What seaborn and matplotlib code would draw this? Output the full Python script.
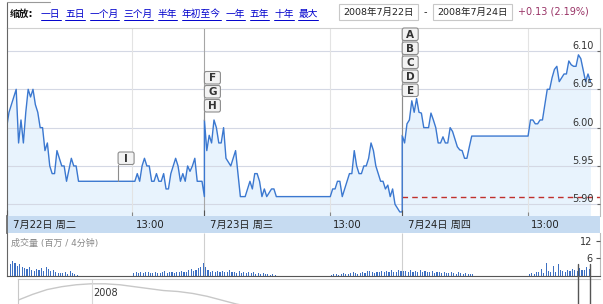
import numpy as np
import pandas as pd
import matplotlib
matplotlib.use("Agg")
import matplotlib.pyplot as plt
from matplotlib.patches import FancyBboxPatch, Rectangle
from matplotlib.transforms import blended_transform_factory, offset_copy
import seaborn as sns

sns.set_theme(style="white")
plt.rcParams["font.family"] = ["DejaVu Sans", "Noto Sans CJK SC"]

# ---------------- data ----------------
day_labels = ["7月22日 周二", "7月23日 周三", "7月24日 周四"]
pm_label = "13:00"

# prices every 4 minutes, morning 09:30-11:30, afternoon from 13:00
day1_am = [6.00, 6.02, 6.03, 6.04, 6.05, 5.98, 6.01, 5.98, 6.02, 6.05, 6.04, 6.05, 6.03, 6.02, 6.00, 6.00,
           5.97, 5.98, 5.95, 5.94, 5.94, 5.97, 5.96, 5.95, 5.95, 5.93, 5.945, 5.96, 5.95, 5.95, 5.93]
day1_pm = [5.93, 5.93, 5.94, 5.93, 5.95, 5.96, 5.95, 5.95, 5.93, 5.93, 5.94, 5.93, 5.93, 5.94, 5.92, 5.92,
           5.94, 5.95, 5.96, 5.95, 5.93, 5.94, 5.93, 5.95, 5.943, 5.95, 5.96, 5.93, 5.93, 5.93, 5.91]
day2_am = [6.01, 5.97, 5.99, 5.98, 6.01, 6.00, 5.98, 5.98, 6.00, 5.96, 5.955, 5.95, 5.96, 5.97, 5.94, 5.91,
           5.91, 5.91, 5.92, 5.93, 5.92, 5.94, 5.94, 5.93, 5.91, 5.92, 5.91, 5.915, 5.92, 5.92, 5.91]
day2_pm = [5.91, 5.92, 5.92, 5.93, 5.93, 5.91, 5.92, 5.93, 5.94, 5.94, 5.97, 5.95, 5.94, 5.94, 5.95, 5.95,
           5.96, 5.98, 5.97, 5.95, 5.94, 5.93, 5.93, 5.92, 5.925, 5.91, 5.92, 5.90, 5.895, 5.89, 5.89]
day3_am = [5.99, 5.98, 6.005, 6.01, 6.035, 6.02, 6.038, 6.02, 6.019, 6.00, 6.00, 6.00, 6.019, 6.01, 6.00, 5.98,
           5.98, 5.988, 5.98, 5.98, 6.00, 5.995, 5.985, 5.975, 5.971, 5.97, 5.96, 5.96, 5.975, 5.989, 5.989]
day3_pm = [5.989, 6.01, 6.01, 6.005, 6.005, 6.01, 6.01, 6.03, 6.05, 6.05, 6.065, 6.076, 6.08, 6.06, 6.065,
           6.07, 6.07, 6.087, 6.082, 6.08, 6.08, 6.095, 6.09, 6.075, 6.06, 6.07, 6.06]

# volume (millions / 4 min)
vol1_am = [3.2, 4.2, 5.0, 4.3, 3.5, 4.0, 3.2, 2.7, 2.3, 3.2, 2.0, 1.8, 2.3, 2.0, 2.7, 1.8, 3.2, 2.3, 1.8, 2.0,
           1.2, 0.9, 1.0, 1.0, 1.4, 0.8, 1.6, 1.0, 0.8, 0.5]
vol1_pm = [1.0, 1.2, 0.9, 1.3, 1.0, 1.2, 1.5, 1.0, 0.9, 1.3, 1.1, 1.0, 1.4, 1.6, 1.0, 1.2, 1.3, 1.0, 1.5, 1.2,
           1.8, 1.4, 1.2, 1.9, 2.5, 1.6, 2.0, 2.8, 3.0, 4.5]
vol2_am = [3.0, 2.0, 1.5, 1.8, 1.4, 1.6, 1.2, 1.8, 1.3, 1.5, 1.9, 1.2, 1.4, 1.0, 1.6, 1.1, 1.3, 0.9, 1.5, 1.0,
           1.2, 0.8, 1.0, 0.7, 0.9, 0.6, 0.8, 0.5, 0.7, 0.5]
vol2_pm = [0.5, 0.6, 0.8, 0.5, 0.7, 0.9, 0.6, 0.8, 1.0, 1.3, 0.9, 0.8, 1.0, 1.2, 0.9, 1.6, 1.8, 1.2, 1.0, 1.4,
           1.2, 1.6, 1.3, 1.8, 1.2, 1.9, 1.5, 1.3, 2.0, 1.8]
vol3_am = [1.6, 1.8, 1.3, 2.0, 1.5, 1.7, 1.2, 1.9, 1.4, 1.6, 1.2, 1.4, 1.8, 1.1, 1.5, 1.2, 1.0, 1.4, 1.1, 0.9,
           1.3, 1.0, 0.8, 1.2, 0.9, 0.7, 1.0, 0.8, 0.6, 0.8]
vol3_pm = [0.8, 1.0, 0.7, 1.5, 1.2, 2.5, 1.0, 4.5, 1.8, 1.5, 3.5, 1.2, 4.0, 2.0, 1.8, 1.5, 2.0, 1.8, 2.5, 2.0,
           1.8, 2.8, 2.2, 2.0, 3.0, 2.5]

prev_close = 5.91
price_ticks = [5.90, 5.95, 6.00, 6.05, 6.10]
vol_ticks = [6, 12]
vol_title = "成交量 (百万 / 4分钟)"

zoom_title = "缩放:"
zoom_links = ["一日", "五日", "一个月", "三个月", "半年", "年初至今", "一年", "五年", "十年", "最大"]
date_from = "2008年7月22日"
date_to = "2008年7月24日"
change_text = "+0.13 (2.19%)"

# news flags: letters, day index, clock time
flag_events = [("ABCDE", 2, "09:30"), ("FGH", 1, "09:30"), ("I", 0, "12:36")]

# navigator (long range) outline
nav_values = [8.2, 9.4, 10.4, 11.0, 11.4, 11.6, 11.6, 11.4, 11.0, 10.6, 10.2, 10.0, 9.6, 9.0, 8.2, 7.4, 6.8]
nav_year = "2008"
nav_year_pos = 5.1

# ---------------- session structure ----------------
SESSION = 330      # minutes 09:30 -> 15:00 on the clock axis
PM_START = 210     # 13:00
STEP = 4

am_prices = [day1_am, day2_am, day3_am]
pm_prices = [day1_pm, day2_pm, day3_pm]
am_vols = [vol1_am, vol2_am, vol3_am]
pm_vols = [vol1_pm, vol2_pm, vol3_pm]

rows = []
for d in range(3):
    for i, p in enumerate(am_prices[d]):
        rows.append((d * SESSION + STEP * i, p))
    for j, p in enumerate(pm_prices[d]):
        rows.append((d * SESSION + PM_START + STEP * j, p))
df = pd.DataFrame(rows, columns=["t", "price"])

vrows = []
for d in range(3):
    for i, v in enumerate(am_vols[d]):
        vrows.append((d * SESSION + STEP * (i + 1) - STEP / 2, v))
    for j, v in enumerate(pm_vols[d]):
        vrows.append((d * SESSION + PM_START + STEP * (j + 1) - STEP / 2, v))
vdf = pd.DataFrame(vrows, columns=["t", "vol"])

day_starts = [d * SESSION for d in range(3)]
pm_starts = [d * SESSION + PM_START for d in range(3)]
XMAX = 3 * SESSION

# ---------------- figure ----------------
W, H = 603, 304
fig = plt.figure(figsize=(W / 100, H / 100), dpi=100)
fig.patch.set_facecolor("white")


def add_px_axes(x0, y0, x1, y1):
    return fig.add_axes([x0 / W, 1 - y1 / H, (x1 - x0) / W, (y1 - y0) / H])


LINE = "#3b78d0"
FILL = "#e8f3fd"
GRID = "#d4d8e4"

# price panel
ax = add_px_axes(6.6, 28, 600, 216)
ax.set_axisbelow(False)
YLO, YHI = 5.8847, 6.130
ax.set_xlim(0, XMAX)
ax.set_ylim(YLO, YHI)
ax.set_facecolor("white")
ax.fill_between(df["t"], df["price"], YLO, color=FILL, lw=0, zorder=1)
for yv in price_ticks:
    ax.axhline(yv, color=GRID, lw=0.8, zorder=1.5)
ax.vlines(pm_starts, YLO, YHI, color="#e3e3e3", lw=0.8, zorder=1.5)
ax.vlines(day_starts[1:], YLO, YHI, color="#a6a6a6", lw=0.8, zorder=1.6)
ax.hlines(prev_close, day_starts[2], XMAX, colors="#c0302c", linestyles=(0, (4, 3)), lw=1.0, zorder=1.8)
sns.lineplot(data=df, x="t", y="price", ax=ax, estimator=None, sort=False, color=LINE, lw=1.0, zorder=2)
ax.set_xlabel("")
ax.set_ylabel("")
ax.set_xticks(day_starts)
ax.set_xticks(pm_starts, minor=True)
ax.tick_params(axis="x", which="major", direction="in", length=4, width=0.8, color="#555",
               labelbottom=False, bottom=True)
ax.tick_params(axis="x", which="minor", direction="in", length=3, width=0.8, color="#888",
               labelbottom=False, bottom=True)
ax.set_yticks(price_ticks)
ax.set_yticklabels([f"{v:.2f}" for v in price_ticks])
ax.yaxis.tick_right()
ax.tick_params(axis="y", direction="in", length=2, width=0.8, color="#666", pad=-4.3,
               labelsize=7, labelcolor="#333")
for tk in ax.yaxis.get_major_ticks():
    tk.label2.set_horizontalalignment("right")
    tk.label2.set_verticalalignment("bottom")
for s, c in [("left", "#666"), ("right", "#bbb"), ("top", "#d0d0d0")]:
    ax.spines[s].set_color(c)
    ax.spines[s].set_linewidth(0.8)
ax.spines["bottom"].set_visible(False)

# date band
axb = add_px_axes(6.6, 216, 600, 233)
axb.set_xlim(0, XMAX)
axb.set_ylim(0, 1)
axb.set_facecolor("#c6dbf1")
axb.set_xticks([])
axb.set_yticks([])
for s in axb.spines.values():
    s.set_visible(False)
axb.spines["left"].set_visible(True)
axb.spines["left"].set_color("#666")
bt = blended_transform_factory(axb.transData, axb.transAxes)
for d in range(3):
    axb.text(day_starts[d], 0.45, day_labels[d], transform=offset_copy(bt, fig, x=6, units="dots"),
             ha="left", va="center", fontsize=7.3, color="#222")
    axb.text(pm_starts[d], 0.45, pm_label, transform=offset_copy(bt, fig, x=3, units="dots"),
             ha="left", va="center", fontsize=7.3, color="#222")

# volume panel
axv = add_px_axes(6.6, 233, 600, 276)
axv.set_axisbelow(False)
VTOP = 14.7
axv.set_xlim(0, XMAX)
axv.set_ylim(0, VTOP)
axv.set_facecolor("white")
axv.vlines(day_starts[1:], 0, VTOP, color="#cfcfcf", lw=0.8, zorder=1)
axv.bar(vdf["t"], vdf["vol"], width=1.8, color="#3d70c2", lw=0, zorder=2)
axv.set_xticks([])
axv.set_yticks(vol_ticks)
axv.set_yticklabels([str(v) for v in vol_ticks])
axv.yaxis.tick_right()
axv.tick_params(axis="y", direction="in", length=3, width=0.8, color="#555", pad=-5.5,
                labelsize=7, labelcolor="#333")
for tk in axv.yaxis.get_major_ticks():
    tk.label2.set_horizontalalignment("right")
for s, c in [("left", "#666"), ("bottom", "#555"), ("right", "#bbb")]:
    axv.spines[s].set_color(c)
    axv.spines[s].set_linewidth(0.8)
axv.spines["top"].set_visible(False)
axv.text(0.008, 0.76, vol_title, transform=axv.transAxes, ha="left", va="center",
         fontsize=6.5, color="#8a8a8a")

# navigator
axn = add_px_axes(18, 279, 600, 304)
axn.set_xlim(0, 40)
axn.set_ylim(7.4, 12.6)
axn.plot(np.arange(len(nav_values)), nav_values, color="#c8c8c8", lw=1.0)
axn.axvline(nav_year_pos, color="#d8d8d8", lw=0.8)
axn.text(nav_year_pos + 0.1, 0.45, nav_year, transform=blended_transform_factory(axn.transData, axn.transAxes),
         ha="left", va="center", fontsize=7, color="#333")
axn.set_xticks([])
axn.set_yticks([])
for s in ["bottom", "right"]:
    axn.spines[s].set_visible(False)
for s in ["top", "left"]:
    axn.spines[s].set_color("#c8c8c8")
    axn.spines[s].set_linewidth(0.8)

# ---------------- overlay (header, flags, frame) ----------------
ov = fig.add_axes([0, 0, 1, 1])
ov.set_xlim(0, W)
ov.set_ylim(H, 0)
ov.axis("off")
ov.patch.set_alpha(0)


def to_px(axis, x, y):
    dx, dy = axis.transData.transform((x, y))
    return dx, H - dy


# frame
ov.plot([6.6, 6.6], [2, 28], color="#666", lw=0.8)
ov.plot([6.6, 50], [2, 2], color="#999", lw=0.8)
# navigator window handles
ov.plot([578, 578], [264, 304], color="#555", lw=1.0)
ov.plot([590, 590], [264, 304], color="#555", lw=1.0)

# header
renderer = fig.canvas.get_renderer()
ov.text(10, 14, zoom_title, ha="left", va="center", fontsize=7, fontweight="bold", color="#111")
link_texts = []
for lab in zoom_links:
    link_texts.append(ov.text(0, 14, lab, ha="left", va="center", fontsize=7, color="#0000cc"))
widths = [t.get_window_extent(renderer).width for t in link_texts]
x0, x1 = 41, 318
gap = (x1 - x0 - sum(widths)) / (len(widths) - 1)
x = x0
for t, w in zip(link_texts, widths):
    t.set_x(x)
    ov.plot([x, x + w], [19.5, 19.5], color="#0000cc", lw=0.7)
    x += w + gap

for bx, txt in [(339, date_from), (433, date_to)]:
    ov.add_patch(Rectangle((bx, 3.5), 79, 16.5, fc="white", ec="#c8c8c8", lw=0.8))
    ov.text(bx + 39.5, 12, txt, ha="center", va="center", fontsize=6.8, color="#222")
ov.text(425.5, 12, "-", ha="center", va="center", fontsize=7, color="#222")
ov.text(518, 12, change_text, ha="left", va="center", fontsize=7, color="#993366")

# flags
stack_tops = {"ABCDE": 28, "FGH": 71.5, "I": 152}
FW, FH, PITCH = 16, 12.5, 14
for letters, d, clock in flag_events:
    hh, mm = map(int, clock.split(":"))
    t = d * SESSION + (hh * 60 + mm) - (9 * 60 + 30)
    p = np.interp(t, df["t"], df["price"])
    xl, yline = to_px(ax, t, p)
    top = stack_tops[letters]
    bottom = top + PITCH * (len(letters) - 1) + FH
    ov.plot([xl, xl], [bottom, yline], color="#8c8c8c", lw=0.8, zorder=5)
    for k, letter in enumerate(letters):
        yt = top + PITCH * k
        ov.add_patch(FancyBboxPatch((xl, yt), FW, FH, boxstyle="round,pad=0,rounding_size=2",
                                    fc="#f3f3f3", ec="#8c8c8c", lw=0.8, zorder=6))
        ov.text(xl + FW / 2, yt + FH / 2 + 0.3, letter, ha="center", va="center", fontsize=7.5,
                fontweight="bold", color="#333", zorder=7)

fig.savefig("out.png", dpi=100, facecolor="white")
